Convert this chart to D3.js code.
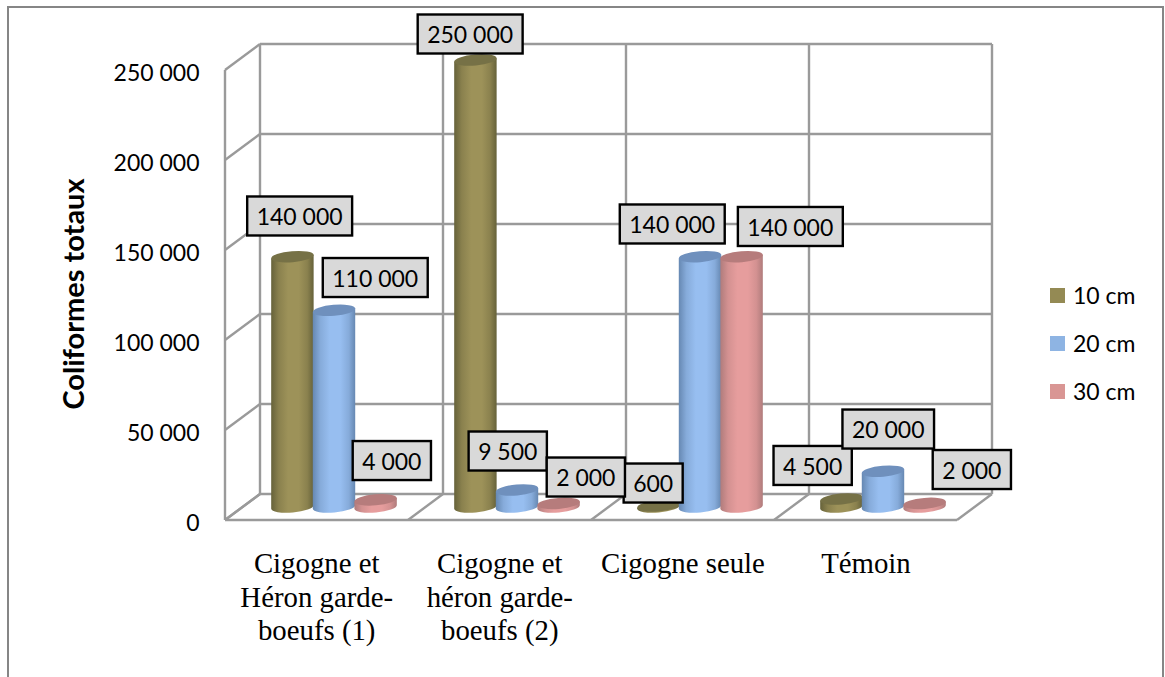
<!DOCTYPE html>
<html lang="fr">
<head>
<meta charset="utf-8">
<title>Coliformes totaux</title>
<script src="https://cdn.jsdelivr.net/npm/d3@7"></script>
<style>
  html, body { margin: 0; padding: 0; background: #fff; }
  svg { display: block; }
  .num { font-family: Lato, "Open Sans", sans-serif; font-size: 23px; fill: #000; }
  .cat { font-family: "Liberation Serif", serif; font-size: 28.8px; fill: #000; }
  .title { font-family: Lato, sans-serif; font-size: 29px; font-weight: 700; fill: #000; }
</style>
</head>
<body>
<svg id="chart" width="1165" height="677"></svg>
<script>
// Chart data
const categories = [
  ["Cigogne et", "Héron garde-", "boeufs (1)"],
  ["Cigogne et", "héron garde-", "boeufs (2)"],
  ["Cigogne seule"],
  ["Témoin"]
];
const seriesNames = ["10 cm", "20 cm", "30 cm"];
const values10cm = [140000, 250000, 600, 4500];
const values20cm = [110000, 9500, 140000, 20000];
const values30cm = [4000, 2000, 140000, 2000];
const yTicks = [0, 50000, 100000, 150000, 200000, 250000];

// Hand-placed offset of each value box from the top of its cylinder
const labelOffsets = [
  [[7.25, -40.7], [-5.25, -26], [-5.25, -22.9], [-28.75, -33.5]],
  [[41.25, -32.8], [-9.25, -39], [-27.75, -32.7], [5.25, -42.2]],
  [[16.25, -39.3], [27.25, -26.4], [48.75, -30.2], [47.25, -33.9]]
];

const seriesValues = [values10cm, values20cm, values30cm];
const palette = [
  { edge: "#66623a", mid: "#9d9259", top: "#767146", swatch: "#948a54" },
  { edge: "#6688b2", mid: "#97bef0", top: "#6f90bd", swatch: "#8eb4e3" },
  { edge: "#b07c7c", mid: "#e69d9d", top: "#b67c7c", swatch: "#d99694" }
];

const svg = d3.select("#chart");
const gridColor = "#9a9a9a";

// 3D box geometry: the back wall is the front plane shifted up and to the right
const frontLeft = 225, frontRight = 957, depthX = 35, depthY = 26;
const yFront = d3.scaleLinear().domain([0, 250000]).range([520, 70]);
const yBack = v => yFront(v) - depthY;
const yBar = d3.scaleLinear().domain([0, 250000]).range([507, 60]);

const floorScale = d3.scaleBand()
  .domain(d3.range(categories.length))
  .range([frontLeft + depthX / 2, frontRight + depthX / 2]);
const slot = d3.scaleBand()
  .domain(d3.range(seriesNames.length))
  .range([0, floorScale.bandwidth()])
  .paddingInner(0)
  .paddingOuter(0.7);
const catX = d3.scalePoint().domain(d3.range(categories.length)).range([316.7, 866]);

const fmt = d3.formatLocale({ decimal: ",", thousands: " ", grouping: [3], currency: ["", ""] }).format(",d");

// Gradients that give the cylinders their roundness
const defs = svg.append("defs");
palette.forEach((c, i) => {
  const shade = d3.interpolateRgb(c.edge, c.mid)(0.65);
  const g = defs.append("linearGradient").attr("id", "cyl" + i)
    .attr("x1", 0).attr("x2", 1).attr("y1", 0).attr("y2", 0);
  [[0, c.edge], [0.18, shade], [0.4, c.mid], [0.65, c.mid], [0.85, shade], [1, c.edge]].forEach(([o, col]) =>
    g.append("stop").attr("offset", o).attr("stop-color", col));
});

// Outer chart frame
svg.append("path")
  .attr("d", "M8,677 V7 H1163 V677")
  .attr("fill", "none").attr("stroke", "#868686").attr("stroke-width", 2);

// Walls and floor
const grid = svg.append("g").attr("fill", "none").attr("stroke", gridColor).attr("stroke-width", 2.4);
yTicks.forEach(t => {
  grid.append("line")
    .attr("x1", frontLeft + depthX).attr("x2", frontRight + depthX)
    .attr("y1", yBack(t)).attr("y2", yBack(t));
  grid.append("line")
    .attr("x1", frontLeft).attr("x2", frontLeft + depthX)
    .attr("y1", yFront(t)).attr("y2", yBack(t));
});
grid.append("line")
  .attr("x1", frontLeft).attr("x2", frontLeft)
  .attr("y1", yFront(250000)).attr("y2", yFront(0));
grid.append("line")
  .attr("x1", frontLeft).attr("x2", frontRight)
  .attr("y1", yFront(0)).attr("y2", yFront(0));
d3.range(categories.length + 1).forEach(i => {
  const x = frontLeft + i * floorScale.bandwidth();
  grid.append("line")
    .attr("x1", x + depthX).attr("x2", x + depthX)
    .attr("y1", yBack(250000)).attr("y2", yBack(0));
  grid.append("line")
    .attr("x1", x).attr("x2", x + depthX)
    .attr("y1", yFront(0)).attr("y2", yBack(0));
});

// Value axis
const axis = d3.axisLeft(yFront).tickValues(yTicks).tickSize(0).tickPadding(0).tickFormat(fmt);
const axisG = svg.append("g").attr("transform", "translate(199.5,2)").call(axis);
axisG.select(".domain").remove();
axisG.selectAll("text").attr("class", "num").attr("fill", "#000").attr("dy", "0.35em");
axisG.attr("font-family", null).attr("font-size", null);

svg.append("text").attr("class", "title")
  .attr("text-anchor", "middle")
  .attr("transform", "translate(84,294) rotate(-90)")
  .text("Coliformes totaux");

// Category labels, wrapped over several lines
categories.forEach((lines, i) => {
  const t = svg.append("text").attr("class", "cat").attr("text-anchor", "middle");
  lines.forEach((line, k) => {
    t.append("tspan").attr("x", catX(i)).attr("y", 573 + k * 33.7).text(line);
  });
});

// Cylinders
const tilt = -5;
const rad = tilt * Math.PI / 180;
const ry = 5.5;
const barsG = svg.append("g");
const tops = [];
seriesValues.forEach((vals, s) => {
  const rx = slot.bandwidth() / 2 + 0.5;
  const ex = rx * Math.cos(rad), ey = rx * Math.sin(rad);
  vals.forEach((v, i) => {
    const cx = floorScale(i) + slot(s) + slot.bandwidth() / 2;
    const y0 = yBar(0), y1 = yBar(v);
    barsG.append("path")
      .attr("d", `M${cx - ex},${y1 - ey} L${cx - ex},${y0 - ey} A${rx},${ry} ${tilt} 0 0 ${cx + ex},${y0 + ey} L${cx + ex},${y1 + ey} Z`)
      .attr("fill", `url(#cyl${s})`);
    barsG.append("ellipse")
      .attr("cx", cx).attr("cy", y1).attr("rx", rx).attr("ry", ry)
      .attr("transform", `rotate(${tilt} ${cx} ${y1})`)
      .attr("fill", palette[s].top);
    tops.push({ s, i, v, cx, y1 });
  });
});

// Value boxes drawn above every cylinder
const boxH = 39, padX = 9.5;
tops.forEach(d => {
  const [dx, dy] = labelOffsets[d.s][d.i];
  const g = svg.append("g").attr("transform", `translate(${d.cx + dx},${d.y1 + dy})`);
  const rect = g.append("rect").attr("fill", "#d9d9d9").attr("stroke", "#000").attr("stroke-width", 2.4);
  const txt = g.append("text").attr("class", "num").attr("text-anchor", "middle")
    .attr("y", 1).attr("dy", "0.35em").text(fmt(d.v));
  const w = txt.node().getComputedTextLength() + 2 * padX;
  rect.attr("x", -w / 2).attr("y", -boxH / 2).attr("width", w).attr("height", boxH);
});

// Legend
const legendY = d3.scalePoint().domain(seriesNames).range([295.5, 391.5]);
seriesNames.forEach((name, s) => {
  svg.append("rect").attr("x", 1050).attr("y", legendY(name) - 7.5)
    .attr("width", 15).attr("height", 15).attr("fill", palette[s].swatch);
  svg.append("text").attr("class", "num").attr("x", 1073).attr("y", legendY(name))
    .attr("dy", "0.35em").text(name);
});
</script>
</body>
</html>
